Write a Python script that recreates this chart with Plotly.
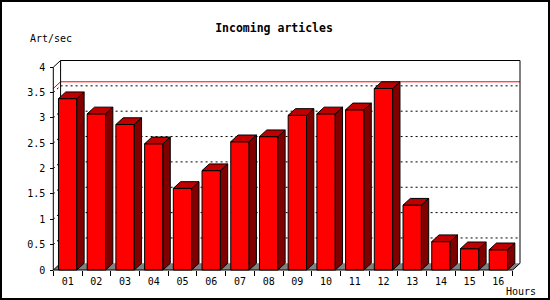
import plotly.graph_objects as go

# ---- data ----
hours = ["01", "02", "03", "04", "05", "06", "07", "08",
         "09", "10", "11", "12", "13", "14", "15", "16"]
rate = [3.38, 3.08, 2.87, 2.49, 1.61, 1.96, 2.53, 2.63,
        3.05, 3.08, 3.16, 3.58, 1.28, 0.56, 0.42, 0.40]
y_ticks = [0, 0.5, 1, 1.5, 2, 2.5, 3, 3.5, 4]
y_labels = ["0", "0.5", "1", "1.5", "2", "2.5", "3", "3.5", "4"]
chart_title = "Incoming articles"
y_unit = "Art/sec"
x_unit = "Hours"

# ---- style / geometry ----
W, H = 550, 300
L, R, T, B = 51, 28, 58, 28
PW, PH = W - L - R, H - T - B
FONT = "DejaVu Sans Mono"
BAR_W = 0.64
DX = 0.254         # depth in category units
DY = 0.132         # depth in value units
YMAX = y_ticks[-1]
n = len(hours)
xs = list(range(1, n + 1))
x_lo, x_hi = 0.5, n + 0.5
# pixel anchors of the drawn frame
px_x0, px_x1 = 53.3, 520.0
px_y0, px_y1 = 270.0, 60.5
ku_x = (x_hi + DX - x_lo) / (px_x1 - px_x0)
ku_y = (YMAX + DY) / (px_y0 - px_y1)
xr = [x_lo - (px_x0 - L) * ku_x, x_hi + DX + (L + PW - px_x1) * ku_x]
yr = [-(T + PH - px_y0) * ku_y, YMAX + DY + (px_y1 - T) * ku_y]

def paper_x(px):
    return (px - L) / PW

def paper_y(py):
    return (T + PH - py) / PH

h = BAR_W / 2
top_x, top_y, side_x, side_y = [], [], [], []
for x, v in zip(xs, rate):
    top_x += [x - h, x + h, x + h + DX, x - h + DX, x - h, None]
    top_y += [v, v, v + DY, v + DY, v, None]
    side_x += [x + h, x + h + DX, x + h + DX, x + h, x + h, None]
    side_y += [0, DY, v + DY, v, 0, None]

fig = go.Figure()
fig.add_trace(go.Bar(x=xs, y=rate, width=BAR_W, cliponaxis=False,
                     marker=dict(color="#ff0000", line=dict(color="black", width=1)),
                     hoverinfo="skip"))
fig.add_trace(go.Scatter(x=side_x, y=side_y, mode="lines", fill="toself",
                         fillcolor="#800000", line=dict(color="black", width=1),
                         hoverinfo="skip"))
fig.add_trace(go.Scatter(x=top_x, y=top_y, mode="lines", fill="toself",
                         fillcolor="#c00000", line=dict(color="black", width=1),
                         hoverinfo="skip"))

shapes = []
def line(x0, y0, x1, y1, color="black", dash=None):
    d = dict(type="line", x0=x0, y0=y0, x1=x1, y1=y1, xref="x", yref="y",
             layer="below", line=dict(color=color, width=1))
    if dash:
        d["line"]["dash"] = dash
    shapes.append(d)

# floor
shapes.append(dict(type="path", xref="x", yref="y", layer="below",
                   path=f"M{x_lo},0 L{x_hi},0 L{x_hi+DX},{DY} L{x_lo+DX},{DY} Z",
                   fillcolor="#808080", line=dict(width=0)))
# grid lines on back wall and side wall
for v in y_ticks[1:-1]:
    line(x_lo + DX, v + DY, x_hi + DX, v + DY, dash="2px,3px")
    line(x_lo, v, x_lo + DX, v + DY, dash="2px,3px")
# max line
vmax = max(rate)
line(x_lo + DX, vmax + DY, x_hi + DX, vmax + DY, color="#ff0000")
line(x_lo, vmax, x_lo + DX, vmax + DY, color="#ff0000")
# frame
line(x_lo, 0, x_lo, YMAX)
line(x_lo, YMAX, x_lo + DX, YMAX + DY)
line(x_lo + DX, YMAX + DY, x_hi + DX, YMAX + DY)
line(x_lo + DX, DY, x_lo + DX, YMAX + DY)
line(x_hi + DX, DY, x_hi + DX, YMAX + DY)
line(x_lo, 0, x_hi, 0)
line(x_lo, 0, x_lo + DX, DY)
line(x_hi, 0, x_hi + DX, DY)
# outer border
shapes.append(dict(type="rect", xref="paper", yref="paper",
                   x0=paper_x(1), x1=paper_x(W - 1), y0=paper_y(H - 1), y1=paper_y(1),
                   line=dict(color="black", width=2), layer="above"))

fig.update_layout(
    width=W, height=H, margin=dict(l=L, r=R, t=T, b=B),
    paper_bgcolor="white", plot_bgcolor="white", showlegend=False,
    shapes=shapes,
    title=dict(text=chart_title, x=274 / W, xref="container", xanchor="center",
               y=1 - 27.7 / H, yref="container", yanchor="middle",
               font=dict(family=FONT, size=11.5, color="black", weight="bold")),
    xaxis=dict(range=xr, showgrid=False, zeroline=False, showline=False,
               tickvals=xs, ticktext=hours, ticks="", ticklabelstandoff=4,
               tickfont=dict(family=FONT, size=10, color="black"),
               anchor="free", position=paper_y(px_y0) if paper_y(px_y0) > 0 else 0,
               minor=dict(tickvals=[x - 0.5 for x in xs] + [x_hi], ticks="outside",
                          ticklen=5, tickcolor="black", showgrid=False)),
    yaxis=dict(range=yr, showgrid=False, zeroline=False, showline=False,
               tickvals=y_ticks, ticktext=y_labels, ticks="outside", ticklen=3,
               ticklabelstandoff=3,
               tickcolor="black", tickfont=dict(family=FONT, size=10, color="black"),
               anchor="free", position=paper_x(px_x0)),
    annotations=[
        dict(text=y_unit, xref="paper", yref="paper", x=paper_x(28), y=paper_y(38),
             xanchor="left", yanchor="middle", showarrow=False,
             font=dict(family=FONT, size=10, color="black")),
        dict(text=x_unit, xref="paper", yref="paper", x=paper_x(504), y=paper_y(291.5),
             xanchor="left", yanchor="middle", showarrow=False,
             font=dict(family=FONT, size=10, color="black")),
    ],
)

fig.write_html("out.html")
